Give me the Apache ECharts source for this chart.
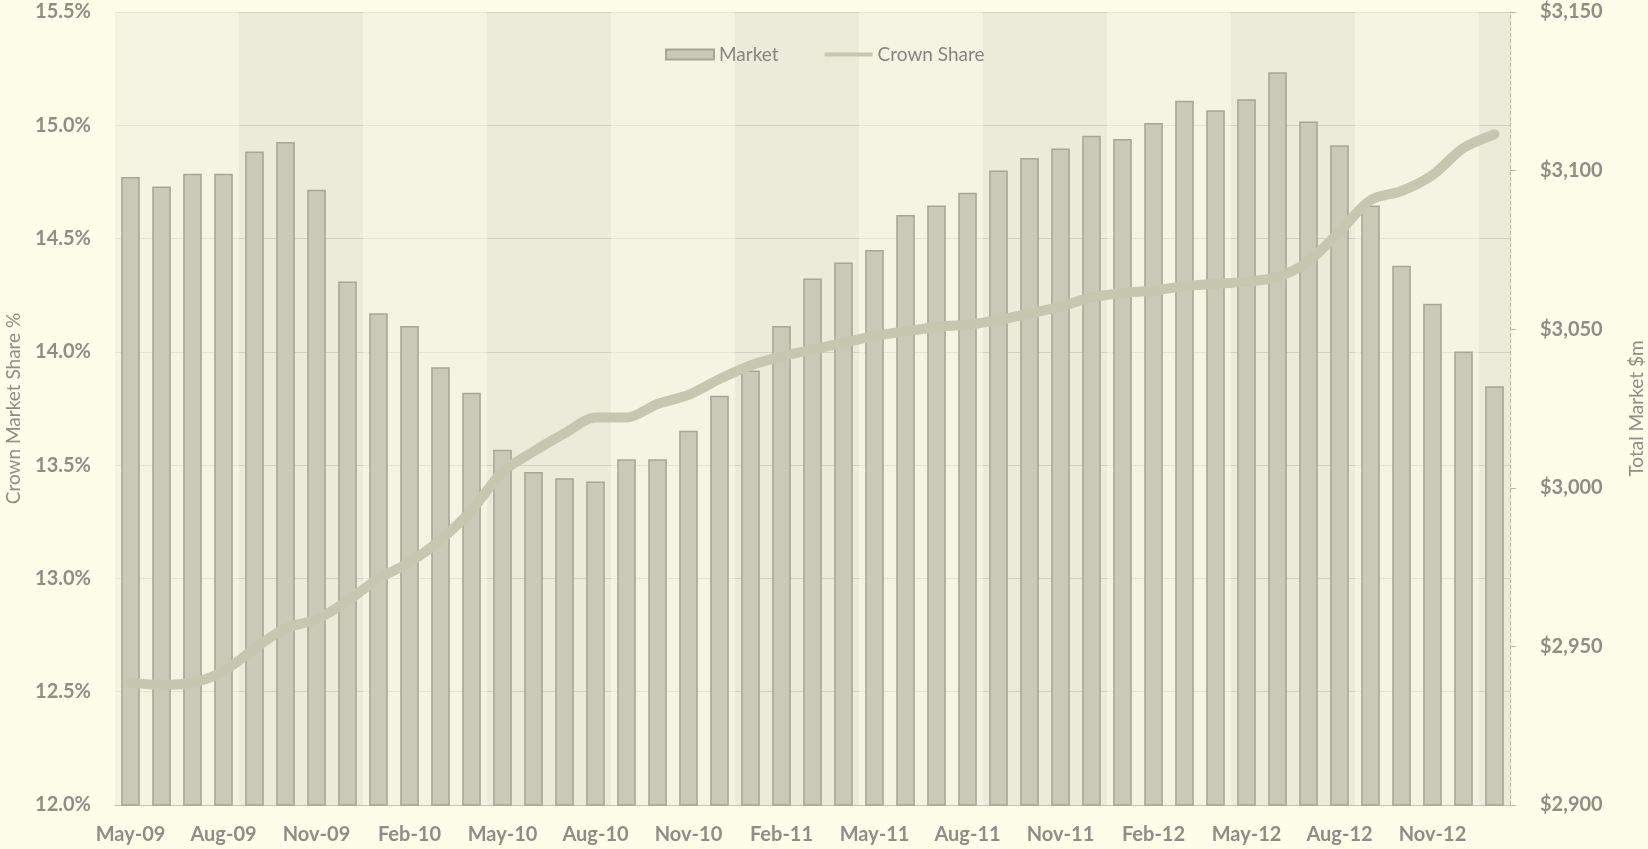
<!DOCTYPE html>
<html>
<head>
<meta charset="utf-8">
<script src="https://cdn.jsdelivr.net/npm/echarts@6/dist/echarts.min.js"></script>
<style>
html,body{margin:0;padding:0;background:#fdfde9;}
#chart{width:1648px;height:849px;}
</style>
</head>
<body>
<div id="chart"></div>
<script>
const months = ['May-09','Jun-09','Jul-09','Aug-09','Sep-09','Oct-09','Nov-09','Dec-09',
  'Jan-10','Feb-10','Mar-10','Apr-10','May-10','Jun-10','Jul-10','Aug-10','Sep-10','Oct-10','Nov-10','Dec-10',
  'Jan-11','Feb-11','Mar-11','Apr-11','May-11','Jun-11','Jul-11','Aug-11','Sep-11','Oct-11','Nov-11','Dec-11',
  'Jan-12','Feb-12','Mar-12','Apr-12','May-12','Jun-12','Jul-12','Aug-12','Sep-12','Oct-12','Nov-12','Dec-12',
  'Jan-13'];
const marketValues = [3098,3095,3099,3099,3106,3109,3094,3065,
  3055,3051,3038,3030,3012,3005,3003,3002,3009,3009,3018,3029,
  3037,3051,3066,3071,3075,3086,3089,3093,3100,3104,3107,3111,
  3110,3115,3122,3119,3122.5,3131,3115.5,3108,3089,3070,3058,3043,
  3032];
const crownShare = [12.54,12.53,12.54,12.59,12.69,12.78,12.82,12.90,
  13.00,13.07,13.17,13.30,13.47,13.56,13.64,13.71,13.71,13.77,13.81,13.88,
  13.94,13.98,14.01,14.04,14.07,14.09,14.11,14.12,14.14,14.17,14.20,14.24,
  14.26,14.27,14.29,14.30,14.31,14.33,14.40,14.53,14.67,14.71,14.78,14.90,
  14.96];
const leftTicks = {min:12.0, max:15.5, interval:0.5};
const rightTicks = {min:2900, max:3150, interval:50};

const txt = '#8e8e86';
const fontFam = 'Lato, "Open Sans", sans-serif';
const chart = echarts.init(document.getElementById('chart'));
chart.setOption({
  backgroundColor:'#fdfde9',
  animation:false,
  textStyle:{fontFamily:fontFam},
  legend:{
    top:40, left:660, itemWidth:48, itemGap:46, itemHeight:10,
    textStyle:{color:'#86867e', fontSize:19, fontFamily:fontFam},
    data:[{name:'Market', icon:'rect'},
          {name:'Crown Share', icon:'path://M0,3 L48,3 L48,7 L0,7 Z'}]
  },
  grid:{left:115, right:138, top:12, bottom:44, show:true, backgroundColor:'#efeedd', borderWidth:0,
        outerBoundsMode:'none', containLabel:false},
  xAxis:{
    type:'category', data:months,
    axisLine:{show:true, lineStyle:{color:'#c4c4b4', width:1}},
    axisTick:{show:false},
    axisLabel:{interval:2, color:txt, fontSize:20, fontWeight:'bold', margin:20, fontFamily:fontFam},
    splitArea:{show:true, interval:3, areaStyle:{color:['rgba(250,250,232,0.55)','rgba(225,225,205,0.2)']}}
  },
  yAxis:[
    {type:'value', min:leftTicks.min, max:leftTicks.max, interval:leftTicks.interval,
     name:'Crown Market Share %', nameLocation:'middle', nameGap:92, nameRotate:90,
     nameTextStyle:{color:txt, fontSize:19, fontFamily:fontFam},
     axisLine:{show:false}, axisTick:{show:false},
     axisLabel:{color:txt, fontSize:20, fontWeight:'bold', margin:24, fontFamily:fontFam,
       formatter:v=>v.toFixed(1)+'%'},
     splitLine:{show:true, lineStyle:{color:'#cdcdbd', width:1.2}}},
    {type:'value', min:rightTicks.min, max:rightTicks.max, interval:rightTicks.interval,
     name:'Total Market $m', nameLocation:'middle', nameGap:117, nameRotate:90,
     nameTextStyle:{color:txt, fontSize:19, fontFamily:fontFam},
     axisLine:{show:true, lineStyle:{color:'#b8b8a8', width:1, type:'dashed'}},
     axisTick:{show:true, length:6, lineStyle:{color:'#b8b8a8'}},
     axisLabel:{color:txt, fontSize:20, fontWeight:'bold', margin:30, fontFamily:fontFam,
       formatter:v=>'$'+v.toLocaleString('en-US')},
     splitLine:{show:false}}
  ],
  series:[
    {name:'Market', type:'bar', yAxisIndex:1, data:marketValues, barWidth:'60%',
     itemStyle:{color:'#c9c9b7', borderColor:'#a6a696', borderWidth:1.5}},
    {name:'Crown Share', type:'line', yAxisIndex:0, data:crownShare, smooth:0.3,
     showSymbol:false, symbol:'none',
     lineStyle:{color:'#c6c6b1', width:10, cap:'round'},
     itemStyle:{color:'#c6c6b1'}}
  ]
});
</script>
</body>
</html>
